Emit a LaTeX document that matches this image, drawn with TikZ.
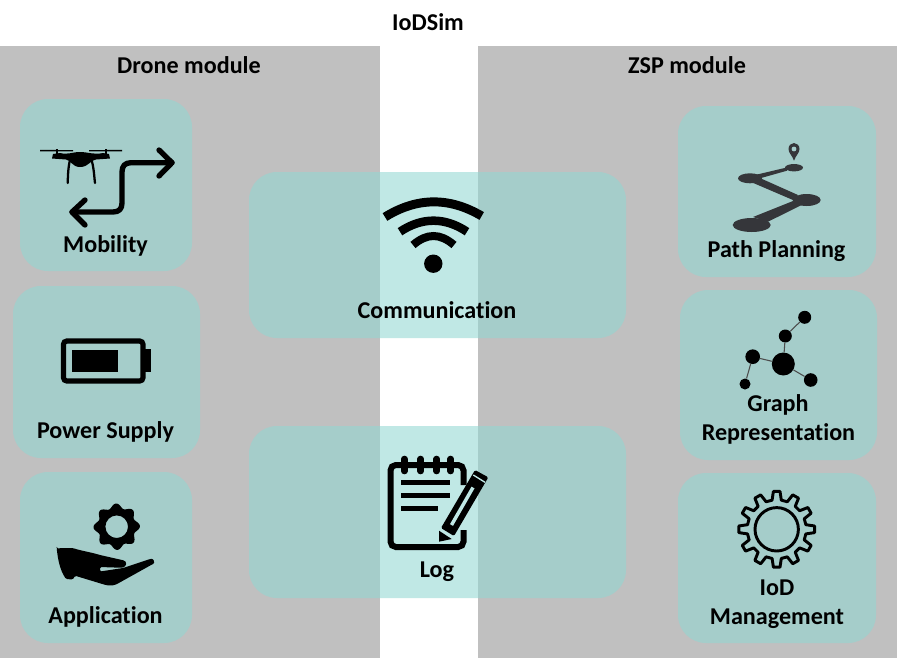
\documentclass[tikz,border=0pt]{standalone}
\usepackage{fontspec}
\setmainfont[Ligatures=NoCommon]{Carlito}
\usetikzlibrary{arrows.meta}
\definecolor{panelgray}{RGB}{192,192,192}
\definecolor{tealfill}{RGB}{145,215,211}
\definecolor{tealsolid}{RGB}{165,205,203}
\definecolor{teallight}{RGB}{192,232,230}
\definecolor{pathdark}{RGB}{53,54,58}
\tikzset{
  x=0.75pt,y=-0.75pt,
  card/.style={fill=tealfill,fill opacity=0.571,draw=none,rounded corners=21pt},
  label/.style={anchor=base,font=\bfseries\fontsize{18.1}{20}\selectfont,text=black,inner sep=0pt},
  icon/.style={fill=black,draw=none},
  stroke/.style={draw=black,line cap=round,line join=round},
  gnode/.style={circle,fill=black,draw=none,inner sep=0pt},
  gedge/.style={draw=black!70,line width=0.8pt},
}
\begin{document}
\begin{tikzpicture}
\useasboundingbox (0,0) rectangle (897,658);
\fill[white] (0,0) rectangle (897,658);
% panels
\fill[panelgray] (0,46) rectangle (380,658);
\fill[panelgray] (478,46) rectangle (897,658);
% cards
\fill[card] (20,99) rectangle (192,271);
\fill[card] (13,286) rectangle (200,458);
\fill[card] (20,472) rectangle (192,643);
\fill[card] (678,106) rectangle (876,277);
\fill[card] (680,290) rectangle (877,460);
\fill[card] (678,473) rectangle (876,643);
\fill[card] (249,172) rectangle (626,338);
\fill[card] (249,426) rectangle (626,598);
% headings
\node[label] (title) at (428,30.8) {IoDSim};
\node[label] (drone) at (189,73.8) {Drone module};
\node[label] (zsp) at (687,73.8) {ZSP module};
% labels
\node[label] (mob) at (105.5,252.7) {Mobility};
\node[label] (pow) at (105.5,438.8) {Power Supply};
\node[label] (app) at (105.5,623.5) {Application};
\node[label] (pathp) at (776.5,257.7) {Path Planning};
\node[label] (gr1) at (778,411.5) {Graph};
\node[label] (gr2) at (778.5,440.5) {Representation};
\node[label] (iod1) at (777,595.8) {IoD};
\node[label] (iod2) at (777,624.3) {Management};
\node[label] (comm) at (437,318.8) {Communication};
\node[label] (logl) at (437,577.8) {Log};
% drone
\fill[icon] (40,149.8) -- (73,150.2) -- (73,151.4) -- (40,151.4) -- cycle;
\fill[icon] (89,150.2) -- (122,149.8) -- (122,151.4) -- (89,151.4) -- cycle;
\fill[icon] (55.5,149) rectangle (58,154);
\fill[icon] (104.5,149) rectangle (107,154);
\fill[icon] (52,158.5) -- (53,154) -- (60,153) .. controls (68,155) and (72,152) .. (80,152) .. controls (88,152) and (94,155) .. (103,153) -- (109,154) -- (110,158.5) -- (96,159.5) .. controls (90,160) and (89,167) .. (80,167) .. controls (72,167) and (71,160) .. (66,159.5) -- cycle;
\draw[line width=1.7pt,line cap=round] (70,160) .. controls (68,168) and (68,175) .. (67.7,183);
\draw[line width=1.7pt,line cap=round] (91.5,160) .. controls (94,168) and (94,175) .. (95,183);
% route arrow
\draw[stroke,line width=4pt] (172,162.7) -- (131,162.7) .. controls (125,162.7) and (122,166) .. (122,172) -- (122,203) .. controls (122,209) and (119,212) .. (113,212) -- (72,212);
\draw[stroke,line width=4pt] (159,150) -- (172,162.7) -- (159,176);
\draw[stroke,line width=4pt] (85,200) -- (72,212) -- (85,225);
% battery
\draw[draw=black,line width=3.9pt,rounded corners=2.5pt] (63.5,341) rectangle (143,381);
\fill[icon] (72,349.5) rectangle (117.5,372);
\fill[icon] (145,349) rectangle (151,372);
% hand and gear
\fill[icon,even odd rule] plot[domain=0:360,samples=145,smooth] ({116.7+(21+2.2*cos(8*\x+10))*cos(\x)},{526.7+(21+2.2*cos(8*\x+10))*sin(\x)}) -- cycle (116.7,526.7) circle[radius=11.3];
\fill[icon,rounded corners=1pt] (56.7,548.3) -- (72.7,548) .. controls (82,551) and (90,552) .. (100,555) -- (122,560) .. controls (127,561) and (128,567) .. (120,567.7) -- (100,567) -- (100,571.5) -- (123,568) -- (150,559) .. controls (154,558.5) and (155,563) .. (152,564.5) -- (117,584) .. controls (112,586) and (108,585.5) .. (104,584.5) -- (75,575.7) -- (73,579.5) -- (66,579) .. controls (60,570) and (58,560) .. cycle;
% wifi
\fill[icon] (433.3,263.7) circle[radius=9.2];
\draw[line width=6.7pt] (385,217) .. controls (417.2,197) and (449.5,197) .. (481.7,216);
\draw[line width=6.4pt] (400,231.7) .. controls (422,217) and (445,217) .. (467,231.7);
\draw[line width=6pt] (413,245) .. controls (427,233) and (440,233) .. (454,245);
% notepad
\draw[draw=black,line width=4.5pt,rounded corners=4pt] (463.5,485) -- (463.5,465) -- (390.5,465) -- (390.5,547) -- (463.5,547) -- (463.5,530);
\foreach \ringx in {404.3,420.7,436.7,450.7}
  \draw[line width=5pt,line cap=round] (\ringx,459) -- (\ringx,471);
\draw[line width=3.8pt] (401,482.7) -- (450,482.7);
\draw[line width=3.8pt] (401,495.3) -- (450,495.3);
\draw[line width=3.8pt] (401,508.3) -- (437.7,508.3);
% pencil
\fill[icon,rounded corners=1pt] (441,528) -- (475,470) -- (488.3,477.3) -- (454,536) -- cycle;
\draw[teallight,line width=2.6pt] (451.5,525) -- (473,487.5);
\draw[teallight,line width=1pt] (473.3,475) -- (485,482.3);
\fill[icon] (439,541.7) -- (439,530.7) -- (451.7,539) -- cycle;
% path planning
\begin{scope}[pathdark]
\fill (794,160.7) .. controls (792,155) and (788.5,153) .. (788.5,149) .. controls (788.5,145.5) and (791,143) .. (794,143) .. controls (797,143) and (799.5,145.5) .. (799.5,149) .. controls (799.5,153) and (796,155) .. (794,160.7) -- cycle;
\fill (794,167.7) ellipse[x radius=9,y radius=3.7];
\fill (750,178.3) ellipse[x radius=12,y radius=5];
\fill (806.7,200) ellipse[x radius=14,y radius=6];
\fill (751.7,225) ellipse[x radius=19,y radius=7];
\fill (786.7,167.5) -- (787,170.7) -- (760,178.3) -- (755,175) -- cycle;
\fill (758.3,177.3) -- (798,195) -- (793,200) -- (751.7,182.3) -- cycle;
\fill (793,201) -- (801.7,205) -- (768,221.7) -- (753,217) -- cycle;
\end{scope}
\fill[tealsolid] (794,149) circle[radius=2.4];
% graph
\node[gnode,minimum size=17.25pt] (gbig) at (783.3,364) {};
\node[gnode,minimum size=11pt] (gleft) at (752.7,356.7) {};
\node[gnode,minimum size=8.25pt] (gleftlow) at (745,384) {};
\node[gnode,minimum size=9.75pt] (gup) at (785.3,336) {};
\node[gnode,minimum size=9.75pt] (gtop) at (804.7,317.3) {};
\node[gnode,minimum size=10.2pt] (gright) at (810.7,380) {};
\draw[gedge] (gbig) -- (gleft);
\draw[gedge] (gleft) -- (gleftlow);
\draw[gedge] (gbig) -- (gup);
\draw[gedge] (gup) -- (gtop);
\draw[gedge] (gbig) -- (gright);
% big gear
\draw[draw=black,line width=2.2pt] (776.7,529.3) circle[radius=21.7];
\draw[draw=black,line width=2.2pt,line join=round]
  ({776.7+29.5*cos(-9)},{529.3+29.5*sin(-9)})
  \foreach \a in {0,30,...,330} {
    -- ({776.7+29.5*cos(\a-9)},{529.3+29.5*sin(\a-9)})
    -- ({776.7+38*cos(\a-5)},{529.3+38*sin(\a-5)})
    -- ({776.7+38*cos(\a+5)},{529.3+38*sin(\a+5)})
    -- ({776.7+29.5*cos(\a+9)},{529.3+29.5*sin(\a+9)})
  } -- cycle;
\end{tikzpicture}
\end{document}
